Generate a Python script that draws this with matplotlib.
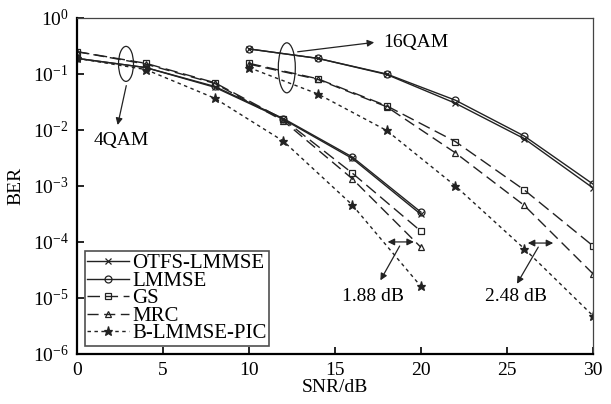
import numpy as np
import matplotlib
matplotlib.use('Agg')
import matplotlib.pyplot as plt
from matplotlib.patches import Ellipse
from matplotlib.ticker import NullLocator

plt.rcParams['font.family'] = ['Liberation Serif', 'DejaVu Serif']
plt.rcParams['mathtext.fontset'] = 'custom'
plt.rcParams['mathtext.rm'] = 'Liberation Serif'
plt.rcParams['mathtext.it'] = 'Liberation Serif:italic'
plt.rcParams['font.size'] = 14

# 4QAM 数据
snr4 = [0, 4, 8, 12, 16, 20]
otfs4 = [0.19, 0.13, 0.058, 0.0155, 0.0031, 3.1e-4]
lmmse4 = [0.19, 0.13, 0.060, 0.016, 0.0033, 3.4e-4]
gs4 = [0.25, 0.155, 0.070, 0.0155, 0.0017, 1.55e-4]
mrc4 = [0.25, 0.15, 0.068, 0.0145, 0.00135, 8e-5]
pic4 = [0.19, 0.12, 0.037, 0.0063, 4.6e-4, 1.6e-5]

# 16QAM 数据
snr16 = [10, 14, 18, 22, 26, 30]
otfs16 = [0.28, 0.19, 0.098, 0.030, 0.0070, 9.2e-4]
lmmse16 = [0.28, 0.19, 0.10, 0.034, 0.0078, 1.08e-3]
gs16 = [0.155, 0.082, 0.027, 0.0062, 8.5e-4, 8.5e-5]
mrc16 = [0.15, 0.08, 0.026, 0.0039, 4.5e-4, 2.7e-5]
pic16 = [0.13, 0.044, 0.0098, 1.0e-3, 7.6e-5, 4.8e-6]

names = ['OTFS-LMMSE', 'LMMSE', 'GS', 'MRC', 'B-LMMSE-PIC']
markers = ['x', 'o', 's', '^', '*']
dashes = [(None), (None), (9, 4), (8, 4), (2.5, 2.5)]

fig = plt.figure(figsize=(6.11, 4.04), dpi=100)
ax = fig.add_axes([0.126, 0.124, 0.8445, 0.8315])

data4 = [otfs4, lmmse4, gs4, mrc4, pic4]
data16 = [otfs16, lmmse16, gs16, mrc16, pic16]
for k in range(5):
    for snr, ber, lab in [(snr4, data4[k], names[k]), (snr16, data16[k], None)]:
        ln, = ax.semilogy(snr, ber, color='#222222', lw=1.0, marker=markers[k],
                          markersize=5 if markers[k] != '*' else 6.5,
                          markerfacecolor='#222222' if markers[k] == '*' else 'none',
                          markeredgecolor='#222222', markeredgewidth=0.9, label=lab)
        if dashes[k] is not None:
            ln.set_dashes(dashes[k])

ax.set_xlim(0, 30)
ax.set_ylim(1e-6, 1)
ax.set_xticks([0, 5, 10, 15, 20, 25, 30])
ax.set_yticks([1e-6, 1e-5, 1e-4, 1e-3, 1e-2, 1e-1, 1])
ax.yaxis.set_minor_locator(NullLocator())
ax.tick_params(direction='in', length=5, width=1.2, pad=6, labelsize=14)
ax.set_xlabel('SNR/dB', fontsize=14, labelpad=0)
ax.set_ylabel('BER', fontsize=14, labelpad=6)
for s in ['left', 'bottom']:
    ax.spines[s].set_linewidth(1.6)
for s in ['top', 'right']:
    ax.spines[s].set_linewidth(0.9)
    ax.spines[s].set_color('#444444')


# 数据坐标 -> 坐标轴比例
def to_ax(x, lg):
    return x / 30.0, (lg + 6) / 6.0


arr = dict(arrowstyle='-|>', color='#222222', lw=0.9, mutation_scale=10)
darr = dict(arrowstyle='<|-|>', color='#222222', lw=0.9, mutation_scale=10)

# 4QAM
ax.add_patch(Ellipse(to_ax(2.85, -0.82), 15 / 516, 35 / 336, transform=ax.transAxes,
                     fill=False, lw=0.9, color='#222222'))
ax.annotate('', xy=(2.33, 10 ** -1.96), xytext=(2.9, 10 ** -1.16), arrowprops=arr)
ax.text(2.6, 10 ** -2.18, '4QAM', ha='center', va='center', fontsize=14)

# 16QAM
ax.add_patch(Ellipse(to_ax(12.2, -0.89), 17 / 516, 50 / 336, transform=ax.transAxes,
                     fill=False, lw=0.9, color='#222222'))
ax.annotate('', xy=(17.44, 10 ** -0.43), xytext=(12.67, 10 ** -0.61), arrowprops=arr)
ax.text(17.8, 10 ** -0.43, '16QAM', ha='left', va='center', fontsize=14)

# 1.88 dB
ax.annotate('', xy=(17.9, 1e-4), xytext=(19.75, 1e-4), arrowprops=darr)
ax.annotate('', xy=(17.56, 10 ** -4.73), xytext=(18.84, 10 ** -4.03), arrowprops=arr)
ax.text(17.2, 10 ** -4.98, '1.88 dB', ha='center', va='center', fontsize=14)

# 2.48 dB
ax.annotate('', xy=(26.05, 10 ** -4.02), xytext=(27.85, 10 ** -4.02), arrowprops=darr)
ax.annotate('', xy=(25.5, 10 ** -4.79), xytext=(26.9, 10 ** -4.05), arrowprops=arr)
ax.text(25.5, 10 ** -4.98, '2.48 dB', ha='center', va='center', fontsize=14)

leg = ax.legend(loc='lower left', bbox_to_anchor=(0.0155, 0.024), borderaxespad=0,
                fontsize=15, handlelength=2.0, handletextpad=0.15, labelspacing=-0.1,
                borderpad=0.12, frameon=True, fancybox=False, edgecolor='#222222')
leg.get_frame().set_linewidth(1.2)

plt.savefig('out.png', dpi=100)
